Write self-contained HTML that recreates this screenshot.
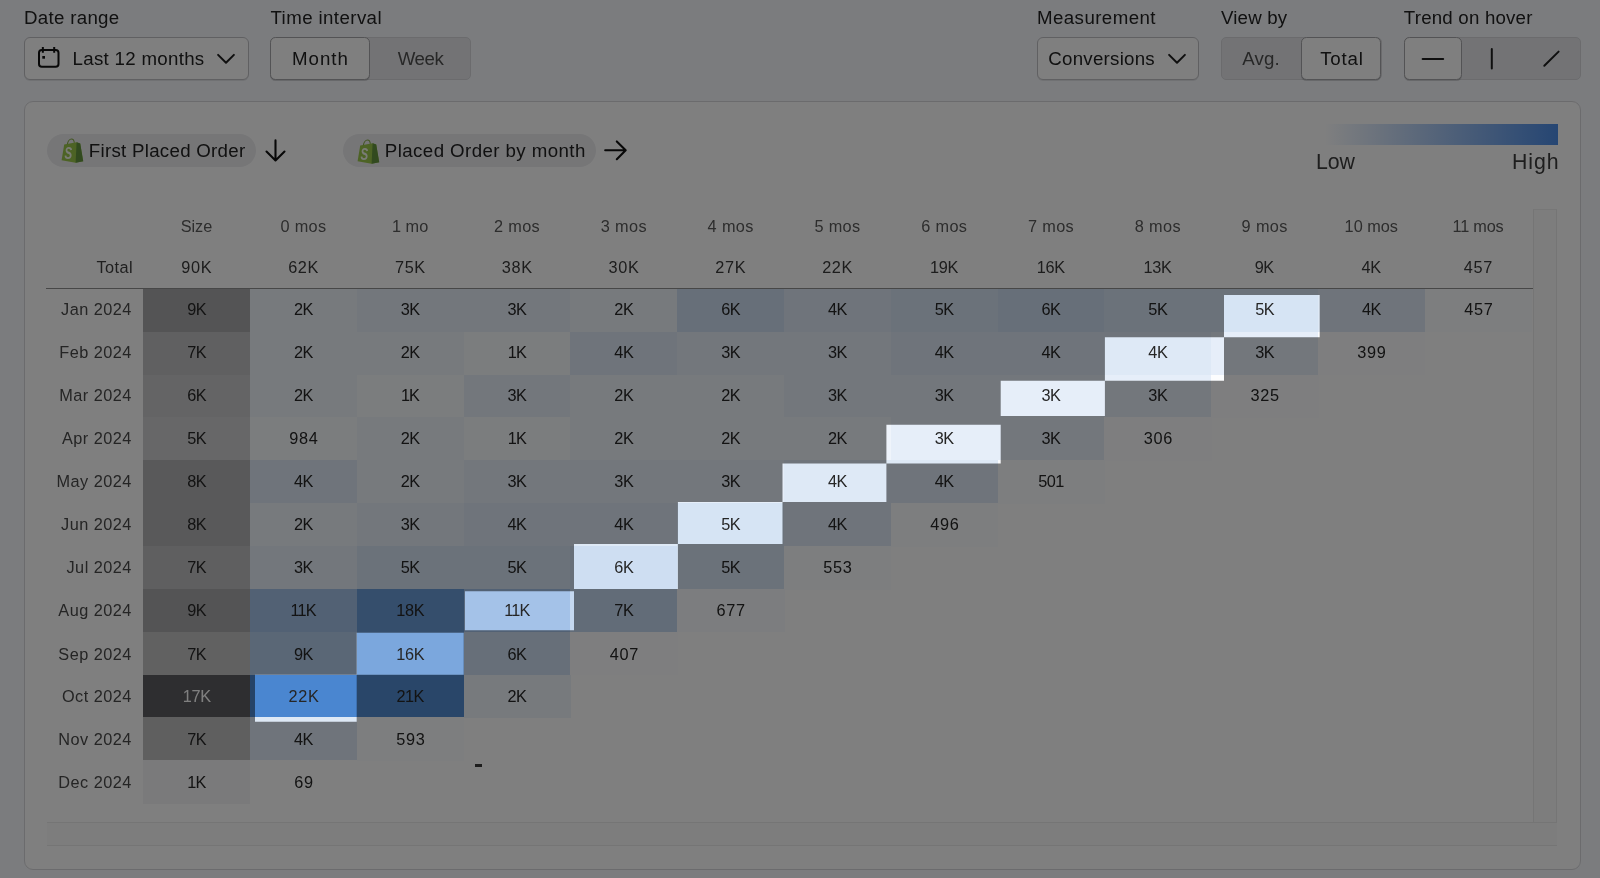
<!DOCTYPE html>
<html lang="en">
<head>
<meta charset="utf-8">
<title>Cohort analysis</title>
<style>
*{box-sizing:border-box;margin:0;padding:0}
html,body{width:1600px;height:878px;overflow:hidden}
body{position:relative;background:#f7f9fd;font-family:"Liberation Sans",Arial,sans-serif;color:#303030}
#page{position:absolute;left:0;top:0;width:1600px;height:878px;will-change:transform}
.abs{position:absolute}
.lbl{position:absolute;top:6.6px;font-size:18.7px;line-height:22px;white-space:nowrap;color:#222}
.btn{position:absolute;top:36.8px;height:42.8px;background:#fff;border:1px solid #c0c0c4;border-radius:6px;box-shadow:0 1px 0 rgba(0,0,0,.09)}
.seg{position:absolute;top:36.8px;height:42.8px;background:#e6e7eb;border-radius:5px;border:1px solid #d6d7db}
.segon{position:absolute;top:36.8px;height:42.8px;background:#fff;border:1.2px solid #a6a6aa;border-radius:5.5px;box-shadow:0 1px 0 rgba(0,0,0,.16)}
.bt{position:absolute;top:37px;height:43px;line-height:43px;font-size:18.7px;white-space:nowrap;color:#222}
.ctr{text-align:center}
.dim{color:#4f4f4f}
.card{position:absolute;left:23.5px;top:101.3px;width:1557.2px;height:768.3px;background:#fff;border:1.3px solid #d6d6da;border-radius:9px}
.pill{position:absolute;top:134px;height:33px;border-radius:17px;background:#ececef}
.pt{position:absolute;top:134px;height:33px;line-height:33px;font-size:18.7px;white-space:nowrap;color:#222}
.h,.t,.c{position:absolute;text-align:center;font-size:16.3px;letter-spacing:0.00px;text-indent:0.00px;white-space:nowrap}
.h{letter-spacing:0.55px;text-indent:0.55px}
.w3{letter-spacing:1.20px;text-indent:1.20px}
.h{top:216px;height:20px;line-height:20px;color:#5a5a5a}
.t{top:257px;height:20px;line-height:20px;color:#3a3a3a}
.c{color:#262626}
.rl{position:absolute;left:46px;width:85.9px;text-align:right;font-size:16.3px;letter-spacing:0.48px;white-space:nowrap;color:#4a4a4a}
.leg{position:absolute;top:149.6px;font-size:21.3px;line-height:24px;color:#3c3c3c;white-space:nowrap}
svg{position:absolute;overflow:visible}
</style>
</head>
<body>
<div id="page">

<!-- top controls -->
<div class="lbl" style="left:24px;letter-spacing:0.30px">Date range</div>
<div class="btn" style="left:23.5px;width:225px"></div>
<svg style="left:37px;top:46px" width="24" height="23" viewBox="0 0 24 23" fill="none" stroke="#111" stroke-width="2" stroke-linejoin="round">
  <rect x="2" y="4" width="19.5" height="16.7" rx="2.8"/>
  <path d="M5.85 1V6.8M17.2 1V6.8"/>
  <rect x="5.3" y="10" width="2.7" height="2.7" fill="#111" stroke="none"/>
</svg>
<div class="bt" style="left:72.5px;letter-spacing:0.30px">Last 12 months</div>
<svg style="left:216px;top:53px" width="20" height="12" viewBox="0 0 20 12" fill="none" stroke="#1f1f1f" stroke-width="2" stroke-linecap="round" stroke-linejoin="round"><path d="M2.1 1.9L10 9.7L17.9 1.9"/></svg>

<div class="lbl" style="left:270.5px;letter-spacing:0.40px">Time interval</div>
<div class="seg" style="left:269.5px;width:201.5px"></div>
<div class="segon" style="left:269.5px;width:100px"></div>
<div class="bt ctr" style="left:269.5px;width:100px;letter-spacing:1.00px;text-indent:1.00px;padding-left:1px">Month</div>
<div class="bt ctr dim" style="left:370.5px;width:100.5px;letter-spacing:-0.40px;text-indent:-0.40px">Week</div>

<div class="lbl" style="left:1037px;letter-spacing:0.42px">Measurement</div>
<div class="btn" style="left:1037px;width:161.5px"></div>
<div class="bt" style="left:1048.3px;letter-spacing:0.25px">Conversions</div>
<svg style="left:1167px;top:53px" width="20" height="12" viewBox="0 0 20 12" fill="none" stroke="#1f1f1f" stroke-width="2" stroke-linecap="round" stroke-linejoin="round"><path d="M2.1 1.9L10 9.7L17.9 1.9"/></svg>

<div class="lbl" style="left:1221px;letter-spacing:0.17px">View by</div>
<div class="seg" style="left:1221px;width:160.5px"></div>
<div class="segon" style="left:1300.6px;width:80.9px"></div>
<div class="bt ctr dim" style="left:1221px;width:80px;letter-spacing:0.20px;text-indent:0.20px">Avg.</div>
<div class="bt ctr" style="left:1301.5px;width:80px;letter-spacing:0.80px;text-indent:0.80px">Total</div>

<div class="lbl" style="left:1403.8px;letter-spacing:0.20px">Trend on hover</div>
<div class="seg" style="left:1403.5px;width:177px"></div>
<div class="segon" style="left:1403.5px;width:58.5px"></div>
<svg style="left:1403px;top:37px" width="178" height="43" viewBox="0 0 178 43" fill="none" stroke="#1f1f1f" stroke-width="2" stroke-linecap="round">
  <path d="M19.6 21.9H40.2"/>
  <path d="M88.8 12V31.5"/>
  <path d="M141.3 28.8L155.6 14.6"/>
</svg>

<!-- card -->
<div class="card"></div>

<div class="pill" style="left:46.5px;width:209.5px"></div>
<svg style="left:60.5px;top:137px" width="23" height="26" viewBox="0 0 23 26">
  <path d="M3.2 7.6L15.6 5.2L19.2 6.4L22.2 24.2L14.6 25.8L0.6 23.2Z" fill="#9bc64b"/>
  <path d="M15.6 5.2L19.2 6.4L22.2 24.2L14.6 25.8Z" fill="#64953f"/>
  <path d="M6.4 7.2C6.8 4.4 8.6 2 10.5 2C12.2 2 13.1 3.6 13.3 5.8" fill="none" stroke="#86ad45" stroke-width="1.1"/>
  <text transform="translate(3.5 21.7) scale(.66 1)" font-family="Liberation Sans, Arial, sans-serif" font-size="17.4" font-weight="700" font-style="italic" fill="#f4f8ec">S</text>
</svg>
<div class="pt" style="left:88.8px;letter-spacing:0.28px">First Placed Order</div>
<svg style="left:265px;top:139px" width="21" height="23" viewBox="0 0 21 23" fill="none" stroke="#111" stroke-width="2.1" stroke-linecap="round" stroke-linejoin="round"><path d="M10.5 1.4V21M1.5 12.6L10.5 21.4L19.5 12.6"/></svg>

<div class="pill" style="left:343px;width:253px"></div>
<svg style="left:357px;top:137.5px" width="23" height="26" viewBox="0 0 23 26">
  <path d="M3.2 7.6L15.6 5.2L19.2 6.4L22.2 24.2L14.6 25.8L0.6 23.2Z" fill="#9bc64b"/>
  <path d="M15.6 5.2L19.2 6.4L22.2 24.2L14.6 25.8Z" fill="#64953f"/>
  <path d="M6.4 7.2C6.8 4.4 8.6 2 10.5 2C12.2 2 13.1 3.6 13.3 5.8" fill="none" stroke="#86ad45" stroke-width="1.1"/>
  <text transform="translate(3.5 21.7) scale(.66 1)" font-family="Liberation Sans, Arial, sans-serif" font-size="17.4" font-weight="700" font-style="italic" fill="#f4f8ec">S</text>
</svg>
<div class="pt" style="left:384.8px;letter-spacing:0.42px">Placed Order by month</div>
<svg style="left:604px;top:140px" width="23" height="21" viewBox="0 0 23 21" fill="none" stroke="#111" stroke-width="2.1" stroke-linecap="round" stroke-linejoin="round"><path d="M1.2 10.3H21.4M12.8 1.4L21.7 10.3L12.8 19.2"/></svg>

<!-- legend -->
<div class="abs" style="left:1324px;top:123.6px;width:234px;height:21.2px;background:linear-gradient(90deg,rgb(255,255,255) 0%,rgb(76,140,230) 100%)"></div>
<div class="leg" style="left:1315.9px;letter-spacing:0.00px">Low</div>
<div class="leg" style="left:1459.4px;width:100px;text-align:right;letter-spacing:0.90px">High</div>

<!-- scrollbar tracks -->
<div class="abs" style="left:1532.8px;top:209px;width:24.2px;height:637px;background:#fafafa;border-left:1px solid #ebebeb;border-right:1px solid #ebebeb;border-top:1px solid #efefef"></div>
<div class="abs" style="left:46.5px;top:822.3px;width:1510.5px;height:23.7px;background:#fafafa;border-top:1px solid #ebebeb;border-bottom:1px solid #ebebeb"></div>

<!-- table -->
<div class="h" style="letter-spacing:0.00px;text-indent:0.00px;left:143.10px;width:106.80px">Size</div>
<div class="h" style="letter-spacing:0.35px;text-indent:0.35px;left:249.90px;width:106.80px">0 mos</div>
<div class="h" style="letter-spacing:0.00px;text-indent:0.00px;left:356.70px;width:106.80px">1 mo</div>
<div class="h" style="letter-spacing:0.35px;text-indent:0.35px;left:463.50px;width:106.80px">2 mos</div>
<div class="h" style="letter-spacing:0.35px;text-indent:0.35px;left:570.30px;width:106.80px">3 mos</div>
<div class="h" style="letter-spacing:0.35px;text-indent:0.35px;left:677.10px;width:106.80px">4 mos</div>
<div class="h" style="letter-spacing:0.35px;text-indent:0.35px;left:783.90px;width:106.80px">5 mos</div>
<div class="h" style="letter-spacing:0.35px;text-indent:0.35px;left:890.70px;width:106.80px">6 mos</div>
<div class="h" style="letter-spacing:0.35px;text-indent:0.35px;left:997.50px;width:106.80px">7 mos</div>
<div class="h" style="letter-spacing:0.35px;text-indent:0.35px;left:1104.30px;width:106.80px">8 mos</div>
<div class="h" style="letter-spacing:0.35px;text-indent:0.35px;left:1211.10px;width:106.80px">9 mos</div>
<div class="h" style="letter-spacing:0.00px;text-indent:0.00px;left:1317.90px;width:106.80px">10 mos</div>
<div class="h" style="letter-spacing:-0.20px;text-indent:-0.20px;left:1424.70px;width:106.80px">11 mos</div>
<div class="t" style="letter-spacing:0.65px;text-indent:0.65px;left:143.10px;width:106.80px">90K</div>
<div class="t" style="letter-spacing:0.65px;text-indent:0.65px;left:249.90px;width:106.80px">62K</div>
<div class="t" style="letter-spacing:0.65px;text-indent:0.65px;left:356.70px;width:106.80px">75K</div>
<div class="t" style="letter-spacing:0.65px;text-indent:0.65px;left:463.50px;width:106.80px">38K</div>
<div class="t" style="letter-spacing:0.65px;text-indent:0.65px;left:570.30px;width:106.80px">30K</div>
<div class="t" style="letter-spacing:0.65px;text-indent:0.65px;left:677.10px;width:106.80px">27K</div>
<div class="t" style="letter-spacing:0.65px;text-indent:0.65px;left:783.90px;width:106.80px">22K</div>
<div class="t" style="letter-spacing:-0.30px;text-indent:-0.30px;left:890.70px;width:106.80px">19K</div>
<div class="t" style="letter-spacing:-0.30px;text-indent:-0.30px;left:997.50px;width:106.80px">16K</div>
<div class="t" style="letter-spacing:-0.30px;text-indent:-0.30px;left:1104.30px;width:106.80px">13K</div>
<div class="t" style="letter-spacing:-0.50px;text-indent:-0.50px;left:1211.10px;width:106.80px">9K</div>
<div class="t" style="letter-spacing:-0.50px;text-indent:-0.50px;left:1317.90px;width:106.80px">4K</div>
<div class="t" style="letter-spacing:0.70px;text-indent:0.70px;left:1424.70px;width:106.80px">457</div>
<div class="rl" style="left:47.3px;top:257px;height:20px;line-height:20px;color:#3f3f3f">Total</div>
<div class="abs" style="left:46px;top:287.7px;width:1487px;height:1.4px;background:#8e8e8e"></div>
<div class="rl" style="top:288.90px;height:42.85px;line-height:41.51px">Jan 2024</div>
<div class="c" style="letter-spacing:-0.50px;text-indent:-0.50px;left:143.10px;top:288.90px;width:107.50px;height:43.55px;line-height:41.51px;background:rgb(169,169,171);color:#262626">9K</div>
<div class="c" style="letter-spacing:-0.50px;text-indent:-0.50px;left:249.90px;top:288.90px;width:107.50px;height:43.55px;line-height:41.51px;background:rgb(239,244,251)">2K</div>
<div class="c" style="letter-spacing:-0.50px;text-indent:-0.50px;left:356.70px;top:288.90px;width:107.50px;height:43.55px;line-height:41.51px;background:rgb(230,238,249)">3K</div>
<div class="c" style="letter-spacing:-0.50px;text-indent:-0.50px;left:463.50px;top:288.90px;width:107.50px;height:43.55px;line-height:41.51px;background:rgb(230,238,249)">3K</div>
<div class="c" style="letter-spacing:-0.50px;text-indent:-0.50px;left:570.30px;top:288.90px;width:107.50px;height:43.55px;line-height:41.51px;background:rgb(239,244,251)">2K</div>
<div class="c" style="letter-spacing:-0.50px;text-indent:-0.50px;left:677.10px;top:288.90px;width:107.50px;height:43.55px;line-height:41.51px;background:rgb(206,222,242)">6K</div>
<div class="c" style="letter-spacing:-0.50px;text-indent:-0.50px;left:783.90px;top:288.90px;width:107.50px;height:43.55px;line-height:41.51px;background:rgb(222,233,246)">4K</div>
<div class="c" style="letter-spacing:-0.50px;text-indent:-0.50px;left:890.70px;top:288.90px;width:107.50px;height:43.55px;line-height:41.51px;background:rgb(214,228,244)">5K</div>
<div class="c" style="letter-spacing:-0.50px;text-indent:-0.50px;left:997.50px;top:288.90px;width:107.50px;height:43.55px;line-height:41.51px;background:rgb(206,222,242)">6K</div>
<div class="c" style="letter-spacing:-0.50px;text-indent:-0.50px;left:1104.30px;top:288.90px;width:107.50px;height:43.55px;line-height:41.51px;background:rgb(214,228,244)">5K</div>
<div class="c" style="letter-spacing:-0.50px;text-indent:-0.50px;left:1211.10px;top:288.90px;width:107.50px;height:43.55px;line-height:41.51px;background:rgb(214,228,244)">5K</div>
<div class="c" style="letter-spacing:-0.50px;text-indent:-0.50px;left:1317.90px;top:288.90px;width:107.50px;height:43.55px;line-height:41.51px;background:rgb(222,233,246)">4K</div>
<div class="c" style="letter-spacing:0.70px;text-indent:0.70px;left:1424.70px;top:288.90px;width:107.50px;height:43.55px;line-height:41.51px;background:rgb(251,252,254)">457</div>
<div class="rl" style="top:331.75px;height:42.85px;line-height:41.61px">Feb 2024</div>
<div class="c" style="letter-spacing:-0.50px;text-indent:-0.50px;left:143.10px;top:331.75px;width:107.50px;height:43.55px;line-height:41.61px;background:rgb(193,193,194);color:#262626">7K</div>
<div class="c" style="letter-spacing:-0.50px;text-indent:-0.50px;left:249.90px;top:331.75px;width:107.50px;height:43.55px;line-height:41.61px;background:rgb(239,244,251)">2K</div>
<div class="c" style="letter-spacing:-0.50px;text-indent:-0.50px;left:356.70px;top:331.75px;width:107.50px;height:43.55px;line-height:41.61px;background:rgb(239,244,251)">2K</div>
<div class="c" style="letter-spacing:-0.90px;text-indent:-0.90px;left:463.50px;top:331.75px;width:107.50px;height:43.55px;line-height:41.61px;background:rgb(247,250,253)">1K</div>
<div class="c" style="letter-spacing:-0.50px;text-indent:-0.50px;left:570.30px;top:331.75px;width:107.50px;height:43.55px;line-height:41.61px;background:rgb(222,233,246)">4K</div>
<div class="c" style="letter-spacing:-0.50px;text-indent:-0.50px;left:677.10px;top:331.75px;width:107.50px;height:43.55px;line-height:41.61px;background:rgb(230,238,249)">3K</div>
<div class="c" style="letter-spacing:-0.50px;text-indent:-0.50px;left:783.90px;top:331.75px;width:107.50px;height:43.55px;line-height:41.61px;background:rgb(230,238,249)">3K</div>
<div class="c" style="letter-spacing:-0.50px;text-indent:-0.50px;left:890.70px;top:331.75px;width:107.50px;height:43.55px;line-height:41.61px;background:rgb(222,233,246)">4K</div>
<div class="c" style="letter-spacing:-0.50px;text-indent:-0.50px;left:997.50px;top:331.75px;width:107.50px;height:43.55px;line-height:41.61px;background:rgb(222,233,246)">4K</div>
<div class="c" style="letter-spacing:-0.50px;text-indent:-0.50px;left:1104.30px;top:331.75px;width:107.50px;height:43.55px;line-height:41.61px;background:rgb(222,233,246)">4K</div>
<div class="c" style="letter-spacing:-0.50px;text-indent:-0.50px;left:1211.10px;top:331.75px;width:107.50px;height:43.55px;line-height:41.61px;background:rgb(230,238,249)">3K</div>
<div class="c" style="letter-spacing:0.70px;text-indent:0.70px;left:1317.90px;top:331.75px;width:107.50px;height:43.55px;line-height:41.61px;background:rgb(252,253,254)">399</div>
<div class="rl" style="top:374.60px;height:42.85px;line-height:40.85px">Mar 2024</div>
<div class="c" style="letter-spacing:-0.50px;text-indent:-0.50px;left:143.10px;top:374.60px;width:107.50px;height:43.55px;line-height:40.85px;background:rgb(200,200,202);color:#262626">6K</div>
<div class="c" style="letter-spacing:-0.50px;text-indent:-0.50px;left:249.90px;top:374.60px;width:107.50px;height:43.55px;line-height:40.85px;background:rgb(239,244,251)">2K</div>
<div class="c" style="letter-spacing:-0.90px;text-indent:-0.90px;left:356.70px;top:374.60px;width:107.50px;height:43.55px;line-height:40.85px;background:rgb(247,250,253)">1K</div>
<div class="c" style="letter-spacing:-0.50px;text-indent:-0.50px;left:463.50px;top:374.60px;width:107.50px;height:43.55px;line-height:40.85px;background:rgb(230,238,249)">3K</div>
<div class="c" style="letter-spacing:-0.50px;text-indent:-0.50px;left:570.30px;top:374.60px;width:107.50px;height:43.55px;line-height:40.85px;background:rgb(239,244,251)">2K</div>
<div class="c" style="letter-spacing:-0.50px;text-indent:-0.50px;left:677.10px;top:374.60px;width:107.50px;height:43.55px;line-height:40.85px;background:rgb(239,244,251)">2K</div>
<div class="c" style="letter-spacing:-0.50px;text-indent:-0.50px;left:783.90px;top:374.60px;width:107.50px;height:43.55px;line-height:40.85px;background:rgb(230,238,249)">3K</div>
<div class="c" style="letter-spacing:-0.50px;text-indent:-0.50px;left:890.70px;top:374.60px;width:107.50px;height:43.55px;line-height:40.85px;background:rgb(230,238,249)">3K</div>
<div class="c" style="letter-spacing:-0.50px;text-indent:-0.50px;left:997.50px;top:374.60px;width:107.50px;height:43.55px;line-height:40.85px;background:rgb(230,238,249)">3K</div>
<div class="c" style="letter-spacing:-0.50px;text-indent:-0.50px;left:1104.30px;top:374.60px;width:107.50px;height:43.55px;line-height:40.85px;background:rgb(230,238,249)">3K</div>
<div class="c" style="letter-spacing:0.70px;text-indent:0.70px;left:1211.10px;top:374.60px;width:107.50px;height:43.55px;line-height:40.85px;background:rgb(252,253,254)">325</div>
<div class="rl" style="top:417.45px;height:42.85px;line-height:43.05px">Apr 2024</div>
<div class="c" style="letter-spacing:-0.50px;text-indent:-0.50px;left:143.10px;top:417.45px;width:107.50px;height:43.55px;line-height:43.05px;background:rgb(207,207,208);color:#262626">5K</div>
<div class="c" style="letter-spacing:0.70px;text-indent:0.70px;left:249.90px;top:417.45px;width:107.50px;height:43.55px;line-height:43.05px;background:rgb(247,250,253)">984</div>
<div class="c" style="letter-spacing:-0.50px;text-indent:-0.50px;left:356.70px;top:417.45px;width:107.50px;height:43.55px;line-height:43.05px;background:rgb(239,244,251)">2K</div>
<div class="c" style="letter-spacing:-0.90px;text-indent:-0.90px;left:463.50px;top:417.45px;width:107.50px;height:43.55px;line-height:43.05px;background:rgb(247,250,253)">1K</div>
<div class="c" style="letter-spacing:-0.50px;text-indent:-0.50px;left:570.30px;top:417.45px;width:107.50px;height:43.55px;line-height:43.05px;background:rgb(239,244,251)">2K</div>
<div class="c" style="letter-spacing:-0.50px;text-indent:-0.50px;left:677.10px;top:417.45px;width:107.50px;height:43.55px;line-height:43.05px;background:rgb(239,244,251)">2K</div>
<div class="c" style="letter-spacing:-0.50px;text-indent:-0.50px;left:783.90px;top:417.45px;width:107.50px;height:43.55px;line-height:43.05px;background:rgb(239,244,251)">2K</div>
<div class="c" style="letter-spacing:-0.50px;text-indent:-0.50px;left:890.70px;top:417.45px;width:107.50px;height:43.55px;line-height:43.05px;background:rgb(230,238,249)">3K</div>
<div class="c" style="letter-spacing:-0.50px;text-indent:-0.50px;left:997.50px;top:417.45px;width:107.50px;height:43.55px;line-height:43.05px;background:rgb(230,238,249)">3K</div>
<div class="c" style="letter-spacing:0.70px;text-indent:0.70px;left:1104.30px;top:417.45px;width:107.50px;height:43.55px;line-height:43.05px;background:rgb(252,253,254)">306</div>
<div class="rl" style="top:460.30px;height:42.85px;line-height:43.25px">May 2024</div>
<div class="c" style="letter-spacing:-0.50px;text-indent:-0.50px;left:143.10px;top:460.30px;width:107.50px;height:43.55px;line-height:43.25px;background:rgb(178,178,180);color:#262626">8K</div>
<div class="c" style="letter-spacing:-0.50px;text-indent:-0.50px;left:249.90px;top:460.30px;width:107.50px;height:43.55px;line-height:43.25px;background:rgb(222,233,246)">4K</div>
<div class="c" style="letter-spacing:-0.50px;text-indent:-0.50px;left:356.70px;top:460.30px;width:107.50px;height:43.55px;line-height:43.25px;background:rgb(239,244,251)">2K</div>
<div class="c" style="letter-spacing:-0.50px;text-indent:-0.50px;left:463.50px;top:460.30px;width:107.50px;height:43.55px;line-height:43.25px;background:rgb(230,238,249)">3K</div>
<div class="c" style="letter-spacing:-0.50px;text-indent:-0.50px;left:570.30px;top:460.30px;width:107.50px;height:43.55px;line-height:43.25px;background:rgb(230,238,249)">3K</div>
<div class="c" style="letter-spacing:-0.50px;text-indent:-0.50px;left:677.10px;top:460.30px;width:107.50px;height:43.55px;line-height:43.25px;background:rgb(230,238,249)">3K</div>
<div class="c" style="letter-spacing:-0.50px;text-indent:-0.50px;left:783.90px;top:460.30px;width:107.50px;height:43.55px;line-height:43.25px;background:rgb(222,233,246)">4K</div>
<div class="c" style="letter-spacing:-0.50px;text-indent:-0.50px;left:890.70px;top:460.30px;width:107.50px;height:43.55px;line-height:43.25px;background:rgb(222,233,246)">4K</div>
<div class="c" style="letter-spacing:-0.50px;text-indent:-0.50px;left:997.50px;top:460.30px;width:107.50px;height:43.55px;line-height:43.25px;background:rgb(251,252,254)">501</div>
<div class="rl" style="top:503.15px;height:42.85px;line-height:42.01px">Jun 2024</div>
<div class="c" style="letter-spacing:-0.50px;text-indent:-0.50px;left:143.10px;top:503.15px;width:107.50px;height:43.55px;line-height:42.01px;background:rgb(178,178,180);color:#262626">8K</div>
<div class="c" style="letter-spacing:-0.50px;text-indent:-0.50px;left:249.90px;top:503.15px;width:107.50px;height:43.55px;line-height:42.01px;background:rgb(239,244,251)">2K</div>
<div class="c" style="letter-spacing:-0.50px;text-indent:-0.50px;left:356.70px;top:503.15px;width:107.50px;height:43.55px;line-height:42.01px;background:rgb(230,238,249)">3K</div>
<div class="c" style="letter-spacing:-0.50px;text-indent:-0.50px;left:463.50px;top:503.15px;width:107.50px;height:43.55px;line-height:42.01px;background:rgb(222,233,246)">4K</div>
<div class="c" style="letter-spacing:-0.50px;text-indent:-0.50px;left:570.30px;top:503.15px;width:107.50px;height:43.55px;line-height:42.01px;background:rgb(222,233,246)">4K</div>
<div class="c" style="letter-spacing:-0.50px;text-indent:-0.50px;left:677.10px;top:503.15px;width:107.50px;height:43.55px;line-height:42.01px;background:rgb(214,228,244)">5K</div>
<div class="c" style="letter-spacing:-0.50px;text-indent:-0.50px;left:783.90px;top:503.15px;width:107.50px;height:43.55px;line-height:42.01px;background:rgb(222,233,246)">4K</div>
<div class="c" style="letter-spacing:0.70px;text-indent:0.70px;left:890.70px;top:503.15px;width:107.50px;height:43.55px;line-height:42.01px;background:rgb(251,252,254)">496</div>
<div class="rl" style="top:546.00px;height:42.85px;line-height:42.11px">Jul 2024</div>
<div class="c" style="letter-spacing:-0.50px;text-indent:-0.50px;left:143.10px;top:546.00px;width:107.50px;height:43.55px;line-height:42.11px;background:rgb(191,191,192);color:#262626">7K</div>
<div class="c" style="letter-spacing:-0.50px;text-indent:-0.50px;left:249.90px;top:546.00px;width:107.50px;height:43.55px;line-height:42.11px;background:rgb(230,238,249)">3K</div>
<div class="c" style="letter-spacing:-0.50px;text-indent:-0.50px;left:356.70px;top:546.00px;width:107.50px;height:43.55px;line-height:42.11px;background:rgb(214,228,244)">5K</div>
<div class="c" style="letter-spacing:-0.50px;text-indent:-0.50px;left:463.50px;top:546.00px;width:107.50px;height:43.55px;line-height:42.11px;background:rgb(214,228,244)">5K</div>
<div class="c" style="letter-spacing:-0.50px;text-indent:-0.50px;left:570.30px;top:546.00px;width:107.50px;height:43.55px;line-height:42.11px;background:rgb(206,222,242)">6K</div>
<div class="c" style="letter-spacing:-0.50px;text-indent:-0.50px;left:677.10px;top:546.00px;width:107.50px;height:43.55px;line-height:42.11px;background:rgb(214,228,244)">5K</div>
<div class="c" style="letter-spacing:0.70px;text-indent:0.70px;left:783.90px;top:546.00px;width:107.50px;height:43.55px;line-height:42.11px;background:rgb(250,252,254)">553</div>
<div class="rl" style="top:588.85px;height:42.85px;line-height:42.01px">Aug 2024</div>
<div class="c" style="letter-spacing:-0.50px;text-indent:-0.50px;left:143.10px;top:588.85px;width:107.50px;height:43.55px;line-height:42.01px;background:rgb(169,169,171);color:#262626">9K</div>
<div class="c" style="letter-spacing:-0.80px;text-indent:-0.80px;left:249.90px;top:588.85px;width:107.50px;height:43.55px;line-height:42.01px;background:rgb(164,194,232)">11K</div>
<div class="c" style="letter-spacing:-0.30px;text-indent:-0.30px;left:356.70px;top:588.85px;width:107.50px;height:43.55px;line-height:42.01px;background:rgb(107,156,217)">18K</div>
<div class="c" style="letter-spacing:-0.80px;text-indent:-0.80px;left:463.50px;top:588.85px;width:107.50px;height:43.55px;line-height:42.01px;background:rgb(164,194,232)">11K</div>
<div class="c" style="letter-spacing:-0.50px;text-indent:-0.50px;left:570.30px;top:588.85px;width:107.50px;height:43.55px;line-height:42.01px;background:rgb(197,216,240)">7K</div>
<div class="c" style="letter-spacing:0.70px;text-indent:0.70px;left:677.10px;top:588.85px;width:107.50px;height:43.55px;line-height:42.01px;background:rgb(249,251,254)">677</div>
<div class="rl" style="top:631.70px;height:42.85px;line-height:44.25px">Sep 2024</div>
<div class="c" style="letter-spacing:-0.50px;text-indent:-0.50px;left:143.10px;top:631.70px;width:107.50px;height:43.55px;line-height:44.25px;background:rgb(194,194,195);color:#262626">7K</div>
<div class="c" style="letter-spacing:-0.50px;text-indent:-0.50px;left:249.90px;top:631.70px;width:107.50px;height:43.55px;line-height:44.25px;background:rgb(181,206,236)">9K</div>
<div class="c" style="letter-spacing:-0.30px;text-indent:-0.30px;left:356.70px;top:631.70px;width:107.50px;height:43.55px;line-height:44.25px;background:rgb(123,167,221)">16K</div>
<div class="c" style="letter-spacing:-0.50px;text-indent:-0.50px;left:463.50px;top:631.70px;width:107.50px;height:43.55px;line-height:44.25px;background:rgb(206,222,242)">6K</div>
<div class="c" style="letter-spacing:0.70px;text-indent:0.70px;left:570.30px;top:631.70px;width:107.50px;height:43.55px;line-height:44.25px;background:rgb(252,253,254)">407</div>
<div class="rl" style="top:674.55px;height:42.85px;line-height:42.85px">Oct 2024</div>
<div class="c" style="letter-spacing:-0.30px;text-indent:-0.30px;left:143.10px;top:674.55px;width:107.50px;height:43.55px;line-height:42.85px;background:rgb(92,92,96);color:#fff">17K</div>
<div class="c" style="letter-spacing:0.65px;text-indent:0.65px;left:249.90px;top:674.55px;width:107.50px;height:43.55px;line-height:42.85px;background:rgb(74,134,208)">22K</div>
<div class="c" style="letter-spacing:-0.60px;text-indent:-0.60px;left:356.70px;top:674.55px;width:107.50px;height:43.55px;line-height:42.85px;background:rgb(82,140,210)">21K</div>
<div class="c" style="letter-spacing:-0.50px;text-indent:-0.50px;left:463.50px;top:674.55px;width:107.50px;height:43.55px;line-height:42.85px;background:rgb(239,244,251)">2K</div>
<div class="rl" style="top:717.40px;height:42.85px;line-height:44.05px">Nov 2024</div>
<div class="c" style="letter-spacing:-0.50px;text-indent:-0.50px;left:143.10px;top:717.40px;width:107.50px;height:43.55px;line-height:44.05px;background:rgb(190,190,191);color:#262626">7K</div>
<div class="c" style="letter-spacing:-0.50px;text-indent:-0.50px;left:249.90px;top:717.40px;width:107.50px;height:43.55px;line-height:44.05px;background:rgb(222,233,246)">4K</div>
<div class="c" style="letter-spacing:0.70px;text-indent:0.70px;left:356.70px;top:717.40px;width:107.50px;height:43.55px;line-height:44.05px;background:rgb(250,252,254)">593</div>
<div class="rl" style="top:760.25px;height:42.85px;line-height:44.05px">Dec 2024</div>
<div class="c" style="letter-spacing:-0.90px;text-indent:-0.90px;left:143.10px;top:760.25px;width:107.50px;height:43.55px;line-height:44.05px;background:rgb(245,245,246);color:#262626">1K</div>
<div class="c" style="letter-spacing:0.50px;text-indent:0.50px;left:249.90px;top:760.25px;width:107.50px;height:43.55px;line-height:44.05px;background:rgb(254,255,255)">69</div>
<div class="abs" style="left:475px;top:764px;width:7px;height:3px;background:#3a3a3a"></div>

</div>
<!-- dim overlay with spotlight cut-outs -->
<svg style="left:0;top:0" width="1600" height="878" viewBox="0 0 1600 878"><path fill="rgba(0,0,0,0.5)" fill-rule="evenodd" d="M0 0H1600V878H0ZM1224.0 295.0H1319.7V337.3H1224.0ZM1104.9 337.3H1224.0V380.8H1104.9ZM1000.7 380.8H1104.9V416.1H1000.7ZM886.4 424.7H1000.7V463.4H886.4ZM782.5 463.4H886.4V501.9H782.5ZM677.9 501.9H782.5V543.9H677.9ZM574.0 543.9H677.9V589.1H574.0ZM464.9 591.3H574.0V630.2H464.9ZM356.7 632.8H463.7V674.8H356.7ZM255.0 674.8H356.7V721.8H255.0Z"/></svg>
</body>
</html>
